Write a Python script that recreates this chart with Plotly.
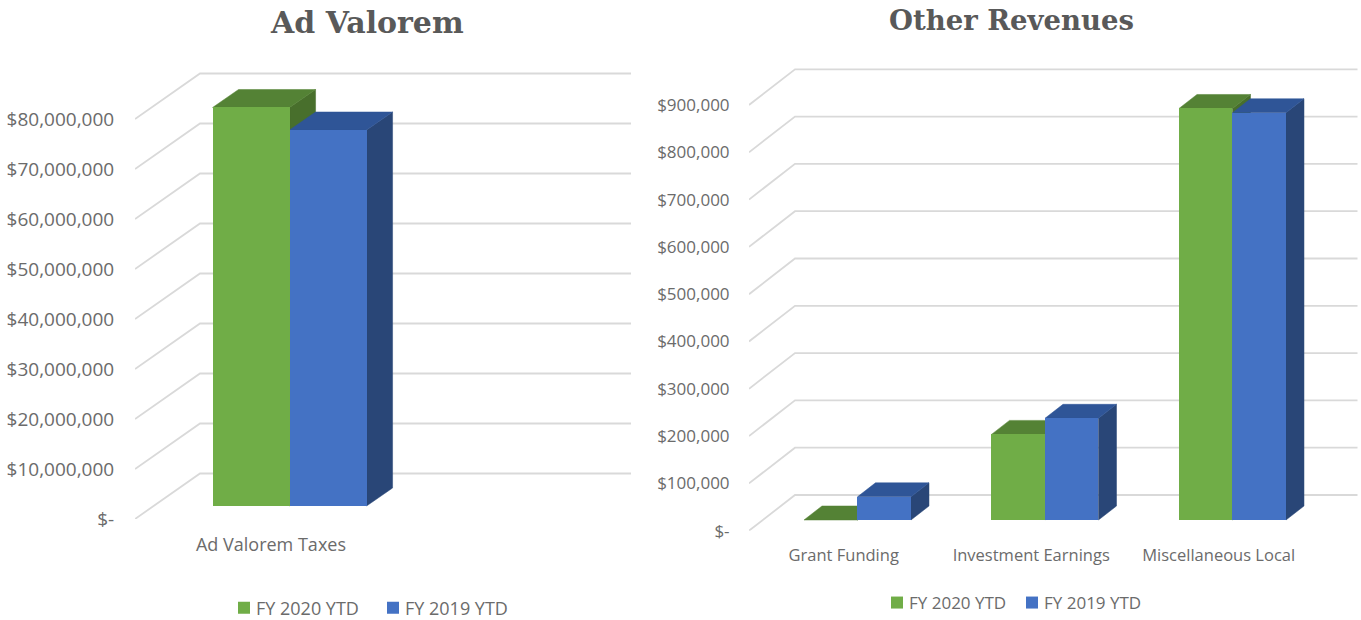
import plotly.graph_objects as go

W, H = 1361, 620
FONT = "Open Sans"
TXT = "#6b6b6b"
GRID = "#d9d9d9"

series_names = ["FY 2020 YTD", "FY 2019 YTD"]
front_cols = ["#70AD47", "#4472C4"]
top_cols = ["#548235", "#2F5597"]
side_cols = ["#486F2C", "#294677"]

left_title = "Ad Valorem"
left_cats = ["Ad Valorem Taxes"]
left_2020 = [79700000]
left_2019 = [75200000]
left_ticks = [0, 10000000, 20000000, 30000000, 40000000, 50000000, 60000000, 70000000, 80000000]
left_ticktext = ["$-", "$10,000,000", "$20,000,000", "$30,000,000", "$40,000,000",
                 "$50,000,000", "$60,000,000", "$70,000,000", "$80,000,000"]

right_title = "Other Revenues"
right_cats = ["Grant Funding", "Investment Earnings", "Miscellaneous Local"]
right_2020 = [0, 181000, 870000]
right_2019 = [49000, 215000, 861000]
right_ticks = [0, 100000, 200000, 300000, 400000, 500000, 600000, 700000, 800000, 900000]
right_ticktext = ["$-", "$100,000", "$200,000", "$300,000", "$400,000", "$500,000",
                  "$600,000", "$700,000", "$800,000", "$900,000"]

fig = go.Figure()


def panel(cats, s2020, s2019, ticks, ticktext, centers, cat_px, x0_px, x_end_px, wall_units,
          y0_px, y_top_px, px_per_val, wall_dx_px, wall_dy_px, plane_frac, bar_px, depth_dx_px, depth_dy_px,
          ax_base, ax_over, legend_name, tick_font, cat_font, ticklen_x, ticklen_y):
    sx = lambda p: p / cat_px
    sy = lambda p: p / px_per_val
    wdx, wdy = sx(wall_dx_px), sy(wall_dy_px)
    gx, gy = [], []
    for t in ticks:
        gx += [0, wdx, wall_units + wdx, None]
        gy += [t, t + wdy, t + wdy, None]
    xa, ya = "x" + ax_base, "y" + ax_base
    xo, yo = "x" + ax_over, "y" + ax_over
    fig.add_trace(go.Scatter(x=gx, y=gy, mode="lines", line=dict(color=GRID, width=1.8),
                             showlegend=False, hoverinfo="skip", xaxis=xa, yaxis=ya))
    px, py = sx(wall_dx_px * plane_frac), sy(wall_dy_px * plane_frac)
    bw = sx(bar_px)
    ddx, ddy = sx(depth_dx_px), sy(depth_dy_px)
    for k, vals in enumerate([s2020, s2019]):
        lefts = [c + px - bw + k * bw for c in centers]
        for l, v in zip(lefts, vals):
            r = l + bw
            top = v + py
            fig.add_trace(go.Scatter(x=[r, r + ddx, r + ddx, r, r], y=[py, py + ddy, top + ddy, top, py],
                                     mode="lines", fill="toself", fillcolor=side_cols[k],
                                     line=dict(color=side_cols[k], width=0.5),
                                     showlegend=False, hoverinfo="skip", xaxis=xa, yaxis=ya))
            fig.add_trace(go.Scatter(x=[l, l + ddx, r + ddx, r, l], y=[top, top + ddy, top + ddy, top, top],
                                     mode="lines", fill="toself", fillcolor=top_cols[k],
                                     line=dict(color=top_cols[k], width=0.5),
                                     showlegend=False, hoverinfo="skip", xaxis=xa, yaxis=ya))
    for k, vals in enumerate([s2020, s2019]):
        fig.add_trace(go.Bar(x=[c + px - bw + k * bw for c in centers], y=vals,
                             base=[py] * len(vals), width=bw, offset=0,
                             name=series_names[k], marker=dict(color=front_cols[k], line=dict(width=0)),
                             legend=legend_name, xaxis=xo, yaxis=yo))
    xdom = [x0_px / W, x_end_px / W]
    ydom = [(H - y0_px) / H, (H - y_top_px) / H]
    xr = [0, (x_end_px - x0_px) / cat_px]
    yr = [0, (y0_px - y_top_px) / px_per_val]
    xname = "xaxis" + ax_base
    yname = "yaxis" + ax_base
    fig.layout[xname] = dict(domain=xdom, range=xr, anchor=ya, tickmode="array", tickvals=centers, ticktext=cats,
                             ticks="outside", ticklen=ticklen_x, tickcolor="rgba(0,0,0,0)", showgrid=False,
                             zeroline=False, showline=False, tickfont=dict(family=FONT, size=cat_font, color=TXT))
    fig.layout[yname] = dict(domain=ydom, range=yr, anchor=xa, tickmode="array", tickvals=ticks, ticktext=ticktext,
                             ticks="outside", ticklen=ticklen_y, tickcolor="rgba(0,0,0,0)", showgrid=False,
                             zeroline=False, showline=False, tickfont=dict(family=FONT, size=tick_font, color=TXT))
    fig.layout["xaxis" + ax_over] = dict(domain=xdom, range=xr, anchor=yo, overlaying=xa, visible=False)
    fig.layout["yaxis" + ax_over] = dict(domain=ydom, range=yr, anchor=xo, overlaying=ya, visible=False)


# left chart: one category unit is the wall's full width
panel(left_cats, left_2020, left_2019, left_ticks, left_ticktext, [0.3155], 431, 135, 640, 1.0,
      519, 60, 5e-6, 65, 45.5, 0.286, 77, 26, 18, "", "3", "legend", 19, 18, 9, 16)
panel(right_cats, right_2020, right_2019, right_ticks, right_ticktext, [0.505, 1.505, 2.505], 187.5, 749, 1361, 3.0,
      530.7, 60, 47.3 / 100000, 46, 35.7, 0.3, 53.5, 18, 14, "2", "4", "legend2", 17, 16.5, 9, 15)

leg = dict(orientation="h", xanchor="left", yanchor="middle", bgcolor="rgba(0,0,0,0)",
           entrywidthmode="pixels", itemclick=False,
           itemdoubleclick=False, traceorder="normal", tracegroupgap=0)

fig.update_layout(
    width=W, height=H, autosize=False, barmode="overlay", bargap=0,
    margin=dict(l=0, r=0, t=0, b=0, autoexpand=False), paper_bgcolor="white", plot_bgcolor="rgba(0,0,0,0)",
    legend=dict(leg, x=224 / W, y=(H - 608) / H, entrywidth=104,
                font=dict(family=FONT, size=18, color=TXT)),
    legend2=dict(leg, x=877 / W, y=(H - 603) / H, entrywidth=90,
                 font=dict(family=FONT, size=17, color=TXT)),
    annotations=[
        dict(text="<b>" + left_title + "</b>", x=367 / W, y=(H - 22) / H, xref="paper", yref="paper",
             showarrow=False, xanchor="center", yanchor="middle",
             font=dict(family="DejaVu Serif", size=30, color="#595959")),
        dict(text="<b>" + right_title + "</b>", x=1011 / W, y=(H - 20) / H, xref="paper", yref="paper",
             showarrow=False, xanchor="center", yanchor="middle",
             font=dict(family="DejaVu Serif", size=27.5, color="#595959")),
    ],
)

# page flush with the window; legend text closer to its swatch, as in the reference
post = """
document.body.style.margin = '0';
document.querySelectorAll('.legendtext, .legend2text').forEach(function (t) { t.setAttribute('x', 32); });
"""
fig.write_html("out.html", config=dict(displayModeBar=False), post_script=post)
